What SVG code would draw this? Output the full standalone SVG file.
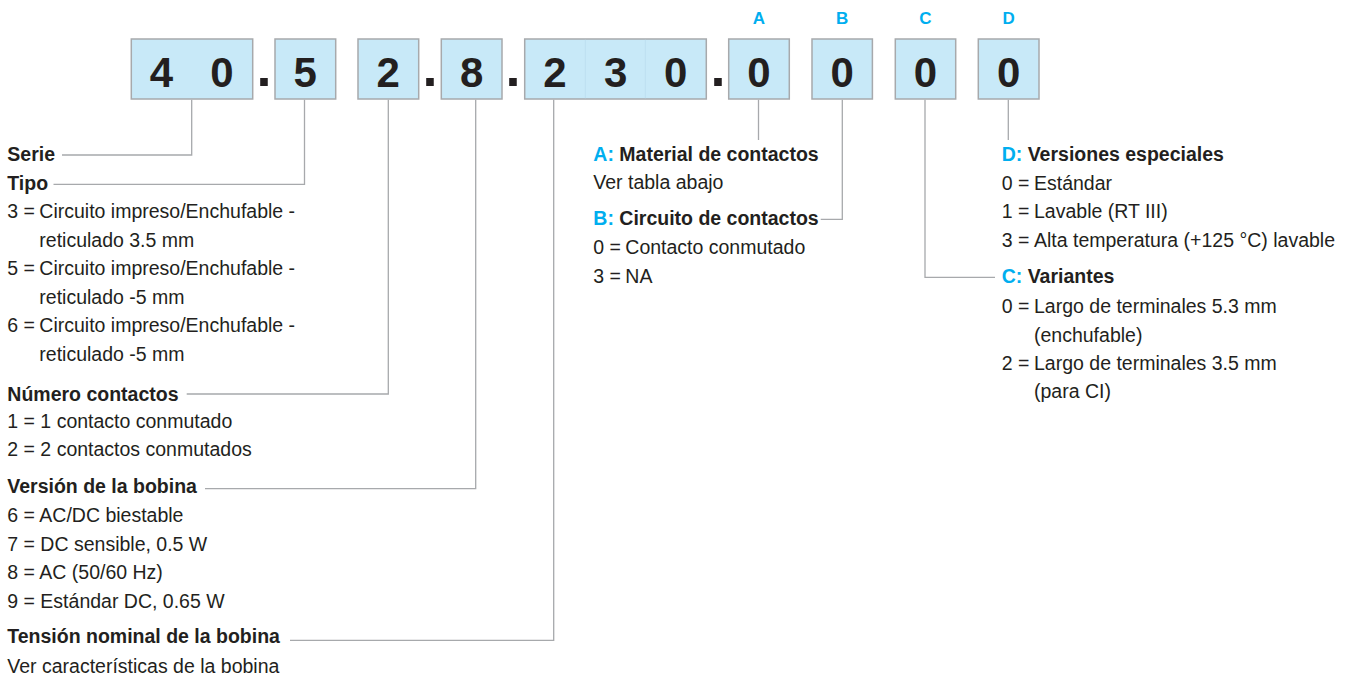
<svg xmlns="http://www.w3.org/2000/svg" width="1355" height="678" viewBox="0 0 1355 678">
<style>
.box{fill:#c8e9f8;stroke:#a7a9ac;stroke-width:1.5}
.div{stroke:#bddff0;stroke-width:1}
.dig{font-family:"Liberation Sans",Arial,sans-serif;font-weight:bold;font-size:42px;fill:#231f20;text-anchor:middle}
.dot{font-family:"Liberation Sans",Arial,sans-serif;font-weight:bold;font-size:54px;fill:#231f20;text-anchor:middle}
.lbl{font-family:"Liberation Sans",Arial,sans-serif;font-weight:bold;font-size:17px;fill:#00aeef;text-anchor:middle}
.t{font-family:"Liberation Sans",Arial,sans-serif;font-size:19.5px;fill:#231f20}
.h{font-weight:bold}
.b{fill:#00aeef}
.c{fill:none;stroke:#a7a9ac;stroke-width:1.3}
</style>
<rect width="1355" height="678" fill="#ffffff"/>

<g id="code">
  <g id="box-serie"><rect class="box" x="131.3" y="39" width="121.4" height="60"/><text class="dig" x="161.5" y="87">4</text><text class="dig" x="222" y="87">0</text></g>
  <text class="dot" x="264" y="85.5">.</text>
  <g id="box-tipo"><rect class="box" x="275" y="39" width="60.7" height="60"/><text class="dig" x="305.3" y="87">5</text></g>
  <g id="box-numero"><rect class="box" x="358" y="39" width="60.7" height="60"/><text class="dig" x="388.3" y="87">2</text></g>
  <text class="dot" x="430" y="85.5">.</text>
  <g id="box-version"><rect class="box" x="441.3" y="39" width="60.7" height="60"/><text class="dig" x="471.7" y="87">8</text></g>
  <text class="dot" x="513" y="85.5">.</text>
  <g id="box-tension"><rect class="box" x="524.7" y="39" width="181.6" height="60"/>
    <line class="div" x1="585.3" y1="39.8" x2="585.3" y2="98.2"/><line class="div" x1="645.3" y1="39.8" x2="645.3" y2="98.2"/>
    <text class="dig" x="555" y="87">2</text><text class="dig" x="615.6" y="87">3</text><text class="dig" x="675.8" y="87">0</text></g>
  <text class="dot" x="718" y="85.5">.</text>
  <g id="box-a"><rect class="box" x="728.7" y="39" width="60.6" height="60"/><text class="dig" x="759" y="87">0</text><text class="lbl" x="759" y="24">A</text></g>
  <g id="box-b"><rect class="box" x="812" y="39" width="60.4" height="60"/><text class="dig" x="842.2" y="87">0</text><text class="lbl" x="842.2" y="24">B</text></g>
  <g id="box-c"><rect class="box" x="895.3" y="39" width="60.4" height="60"/><text class="dig" x="925.5" y="87">0</text><text class="lbl" x="925.5" y="24">C</text></g>
  <g id="box-d"><rect class="box" x="978.3" y="39" width="60.7" height="60"/><text class="dig" x="1008.7" y="87">0</text><text class="lbl" x="1008.7" y="24">D</text></g>
</g>

<g id="connectors">
  <polyline class="c" points="191.7,99.8 191.7,155 62,155"/>
  <polyline class="c" points="304.5,99.8 304.5,184.3 53.5,184.3"/>
  <polyline class="c" points="388.3,99.8 388.3,394 186.7,394"/>
  <polyline class="c" points="475.7,99.8 475.7,488.7 205,488.7"/>
  <polyline class="c" points="553.7,99.8 553.7,640.3 290,640.3"/>
  <polyline class="c" points="758.5,99.8 758.5,140"/>
  <polyline class="c" points="842.3,99.8 842.3,219.3 820.7,219.3"/>
  <polyline class="c" points="925,99.8 925,277.3 995,277.3"/>
  <polyline class="c" points="1008.3,99.8 1008.3,140"/>
</g>

<g id="legend-serie">
  <text class="t h" x="7.3" y="160.7">Serie</text>
</g>
<g id="legend-tipo">
  <text class="t h" x="7.3" y="190">Tipo</text>
  <text class="t" x="7.3" y="218">3 =</text><text class="t" x="39.3" y="218">Circuito impreso/Enchufable -</text>
  <text class="t" x="39.3" y="246.7">reticulado 3.5 mm</text>
  <text class="t" x="7.3" y="275.2">5 =</text><text class="t" x="39.3" y="275.2">Circuito impreso/Enchufable -</text>
  <text class="t" x="39.3" y="303.7">reticulado -5 mm</text>
  <text class="t" x="7.3" y="332">6 =</text><text class="t" x="39.3" y="332">Circuito impreso/Enchufable -</text>
  <text class="t" x="39.3" y="360.5">reticulado -5 mm</text>
</g>
<g id="legend-numero">
  <text class="t h" x="7.3" y="400.7">Número contactos</text>
  <text class="t" x="7.3" y="428">1 = 1 contacto conmutado</text>
  <text class="t" x="7.3" y="456">2 = 2 contactos conmutados</text>
</g>
<g id="legend-version">
  <text class="t h" x="7.3" y="492.7">Versión de la bobina</text>
  <text class="t" x="7.3" y="522">6 = AC/DC biestable</text>
  <text class="t" x="7.3" y="550.5">7 = DC sensible, 0.5 W</text>
  <text class="t" x="7.3" y="579">8 = AC (50/60 Hz)</text>
  <text class="t" x="7.3" y="607.5">9 = Estándar DC, 0.65 W</text>
</g>
<g id="legend-tension">
  <text class="t h" x="7.3" y="643.3">Tensión nominal de la bobina</text>
  <text class="t" x="7.3" y="672.5">Ver características de la bobina</text>
</g>
<g id="legend-a">
  <text class="t h" x="593.3" y="160.7"><tspan class="b">A:</tspan> Material de contactos</text>
  <text class="t" x="593.3" y="189.3">Ver tabla abajo</text>
</g>
<g id="legend-b">
  <text class="t h" x="593.3" y="225"><tspan class="b">B:</tspan> Circuito de contactos</text>
  <text class="t" x="593.3" y="254">0 =</text><text class="t" x="625.3" y="254">Contacto conmutado</text>
  <text class="t" x="593.3" y="282.7">3 =</text><text class="t" x="625.3" y="282.7">NA</text>
</g>
<g id="legend-d">
  <text class="t h" x="1001.7" y="160.7"><tspan class="b">D:</tspan> Versiones especiales</text>
  <text class="t" x="1001.7" y="190">0 =</text><text class="t" x="1034" y="190">Estándar</text>
  <text class="t" x="1001.7" y="218.3">1 =</text><text class="t" x="1034" y="218.3">Lavable (RT III)</text>
  <text class="t" x="1001.7" y="246.7">3 =</text><text class="t" x="1034" y="246.7">Alta temperatura (+125 °C) lavable</text>
</g>
<g id="legend-c">
  <text class="t h" x="1001.7" y="283.3"><tspan class="b">C:</tspan> Variantes</text>
  <text class="t" x="1001.7" y="312.7">0 =</text><text class="t" x="1034" y="312.7">Largo de terminales 5.3 mm</text>
  <text class="t" x="1034" y="341.7">(enchufable)</text>
  <text class="t" x="1001.7" y="370">2 =</text><text class="t" x="1034" y="370">Largo de terminales 3.5 mm</text>
  <text class="t" x="1034" y="398.3">(para CI)</text>
</g>
</svg>
